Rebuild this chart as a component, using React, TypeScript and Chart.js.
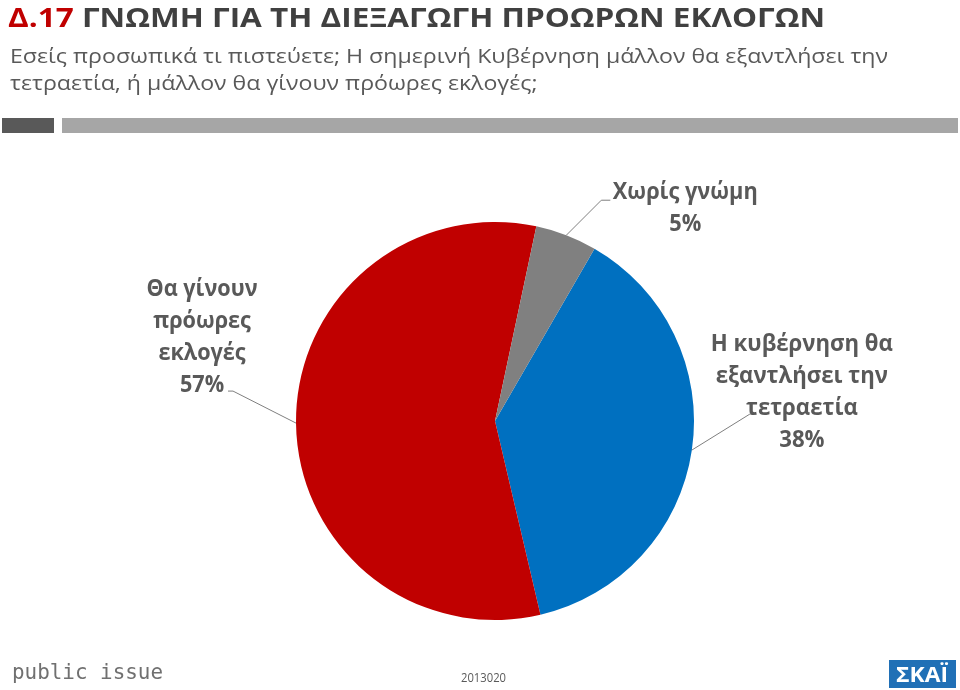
import React, { useEffect, useRef } from "react";
import { Chart, registerables } from "chart.js";

Chart.register(...registerables);

const categories = [
  "Η κυβέρνηση θα εξαντλήσει την τετραετία",
  "Θα γίνουν πρόωρες εκλογές",
  "Χωρίς γνώμη",
];
const values = [38, 57, 5];
const sliceColors = ["#0070C0", "#C00000", "#808080"];
const labelLines = [
  ["Η κυβέρνηση θα", "εξαντλήσει την", "τετραετία"],
  ["Θα γίνουν", "πρόωρες", "εκλογές"],
  ["Χωρίς γνώμη"],
];
const titleCode = "Δ.17 ";
const titleText = "ΓΝΩΜΗ ΓΙΑ ΤΗ ΔΙΕΞΑΓΩΓΗ ΠΡΟΩΡΩΝ ΕΚΛΟΓΩΝ";
const subtitleLines = [
  "Εσείς προσωπικά τι πιστεύετε; Η σημερινή Κυβέρνηση μάλλον θα εξαντλήσει την",
  "τετραετία, ή μάλλον θα γίνουν πρόωρες εκλογές;",
];
const sourceText = "public issue";
const codeText = "2013020";
const logoText = "ΣΚΑΪ";

// label layout: leader elbow offset from slice edge, tail length, text center offset from elbow, first baseline offset, target width of first line
const labelLayout = [
  { dx: 58, dy: -36, tail: 7, tx: 52, ty: -63, w: 182 },
  { dx: -63, dy: -32, tail: -5, tx: -31, ty: -95, w: 111 },
  { dx: 35, dy: -35, tail: 9, tx: 84, ty: -1, w: 145 },
];

const FONT = '"Open Sans", "Noto Sans", "DejaVu Sans", sans-serif';

function drawScaled(ctx: CanvasRenderingContext2D, text: string, x: number, y: number, s: number, align: "left" | "center") {
  ctx.save();
  ctx.translate(x, y);
  ctx.scale(s, 1);
  ctx.textAlign = align;
  ctx.textBaseline = "alphabetic";
  ctx.fillText(text, 0, 0);
  ctx.restore();
}

const decorPlugin = {
  id: "decor",
  afterDraw(chart: any) {
    const ctx: CanvasRenderingContext2D = chart.ctx;
    ctx.save();
    // Title
    ctx.font = `bold 27px ${FONT}`;
    const w1 = ctx.measureText(titleCode).width;
    const w2 = ctx.measureText(titleText).width;
    const s = 817 / (w1 + w2);
    ctx.fillStyle = "#C00000";
    drawScaled(ctx, titleCode, 8, 27, s, "left");
    ctx.fillStyle = "#404040";
    drawScaled(ctx, titleText, 8 + w1 * s, 27, s, "left");
    // Subtitle
    ctx.font = `20px ${FONT}`;
    const ss = 878 / ctx.measureText(subtitleLines[0]).width;
    ctx.fillStyle = "#595959";
    drawScaled(ctx, subtitleLines[0], 10, 63, ss, "left");
    drawScaled(ctx, subtitleLines[1], 10, 90, ss, "left");
    // Bars
    ctx.fillStyle = "#595959";
    ctx.fillRect(2, 118, 52, 15);
    ctx.fillStyle = "#A6A6A6";
    ctx.fillRect(62, 118, 896, 15);

    // Labels with leader lines
    const meta = chart.getDatasetMeta(0);
    meta.data.forEach((arc: any, i: number) => {
      const L = labelLayout[i];
      const mid = (arc.startAngle + arc.endAngle) / 2;
      const ex = arc.x + Math.cos(mid) * arc.outerRadius;
      const ey = arc.y + Math.sin(mid) * arc.outerRadius;
      const bx = ex + L.dx;
      const by = ey + L.dy;
      ctx.strokeStyle = "#7F7F7F";
      ctx.lineWidth = 1;
      ctx.beginPath();
      ctx.moveTo(ex, ey);
      ctx.lineTo(bx, by);
      ctx.lineTo(bx + L.tail, by);
      ctx.stroke();
      ctx.font = `bold 24px ${FONT}`;
      ctx.fillStyle = "#595959";
      const lines = [...labelLines[i], `${values[i]}%`];
      const ls = L.w / ctx.measureText(lines[0]).width;
      const cx = bx + L.tx;
      lines.forEach((t, j) => {
        drawScaled(ctx, t, cx, by + L.ty + j * 32, ls, "center");
      });
    });

    // Footer
    ctx.font = `22px "DejaVu Sans Mono", monospace`;
    ctx.fillStyle = "#707070";
    const ps = 151 / ctx.measureText(sourceText).width;
    drawScaled(ctx, sourceText, 12, 679, ps, "left");
    ctx.font = `12px ${FONT}`;
    ctx.fillStyle = "#595959";
    const cs = 45 / ctx.measureText(codeText).width;
    drawScaled(ctx, codeText, 461, 682, cs, "left");
    ctx.fillStyle = "#2070B6";
    ctx.fillRect(889, 660, 67, 28);
    ctx.font = `bold 21px ${FONT}`;
    ctx.fillStyle = "#FFFFFF";
    const gs = 52 / ctx.measureText(logoText).width;
    drawScaled(ctx, logoText, 922, 682, gs, "center");
    ctx.restore();
  },
};

export default function App() {
  const ref = useRef<HTMLCanvasElement | null>(null);
  useEffect(() => {
    if (!ref.current) return;
    const chart = new Chart(ref.current, {
      type: "pie",
      data: {
        labels: categories,
        datasets: [
          {
            data: values,
            backgroundColor: sliceColors,
            borderWidth: 0,
            hoverOffset: 0,
            offset: 0,
          },
        ],
      },
      options: {
        animation: false,
        responsive: false,
        rotation: 30,
        layout: { padding: { left: 296, right: 266, top: 222, bottom: 70 } },
        plugins: {
          legend: { display: false },
          title: { display: false },
          tooltip: { enabled: false },
        },
        events: [],
      },
      plugins: [decorPlugin],
    });
    return () => chart.destroy();
  }, []);
  return (
    <div style={{ position: "fixed", left: 0, top: 0, width: 960, height: 690, background: "#fff" }}>
      <canvas ref={ref} width={960} height={690} style={{ width: 960, height: 690, display: "block" }} />
    </div>
  );
}
